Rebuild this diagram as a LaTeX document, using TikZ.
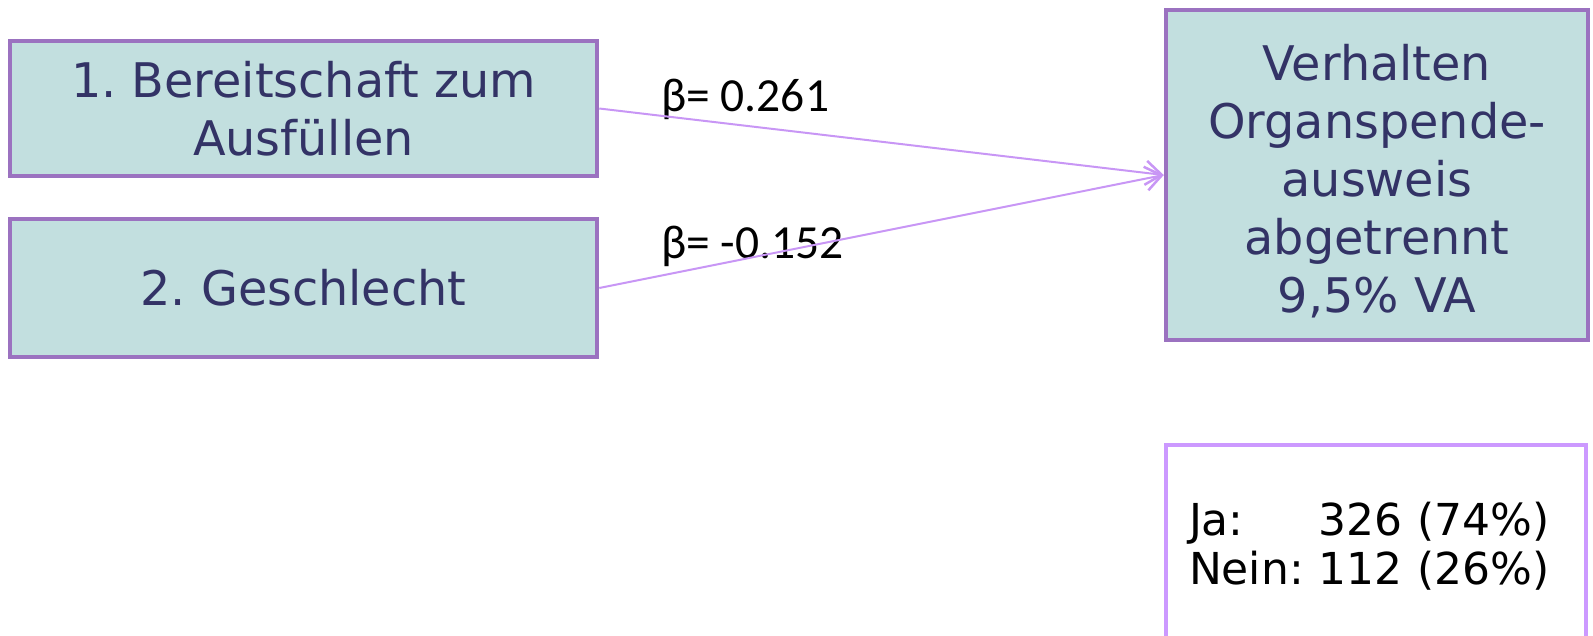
\documentclass[tikz,border=0pt]{standalone}
\usepackage{fontspec}
\setmainfont{DejaVu Sans}
\newfontfamily\calib{Carlito}
\usetikzlibrary{arrows.meta}
\definecolor{boxfill}{HTML}{C2DFDF}
\definecolor{boxdraw}{HTML}{9B72C0}
\definecolor{boxtext}{HTML}{333366}
\definecolor{arrowc}{HTML}{C896F5}
\definecolor{notedraw}{HTML}{CC99FF}
\frenchspacing
\begin{document}
\frenchspacing
\begin{tikzpicture}[x=1pt,y=-1pt,
  varbox/.style={draw=boxdraw, line width=4.5pt, fill=boxfill, text=boxtext,
    font=\fontsize{47.7}{58}\selectfont, align=center, inner sep=0pt},
  notebox/.style={draw=notedraw, line width=4pt, fill=white, text=black,
    font=\fontsize{44}{49.5}\selectfont, inner xsep=23pt, inner ysep=0pt,
    text width=374pt, align=left},
  betalabel/.style={font=\calib\fontsize{47.5}{50}\selectfont, text=black, anchor=west, inner sep=0pt},
  effect/.style={draw=arrowc, line width=2pt, -{Straight Barb[length=16pt,width=24pt,line width=2.5pt]}}
]
\useasboundingbox (0,0) rectangle (1593,635);
\node[varbox, minimum width=587pt, minimum height=135pt] (b1) at (303.5,108.5)
  {1. Bereitschaft zum\\Ausfüllen};
\node[varbox, minimum width=587pt, minimum height=138pt] (b2) at (303.5,288)
  {2. Geschlecht};
\node[varbox, minimum width=422pt, minimum height=330pt] (out) at (1377,175)
  {\raisebox{-10pt}[\height][\depth]{\begin{tabular}{@{}c@{}}Verhalten\\Organspende-\\ausweis\\abgetrennt\\9,5\% VA\end{tabular}}};
\node[notebox, minimum width=420pt, minimum height=210pt] (note) at (1376,550)
  {\begin{tabular}{@{}l@{ }l}Ja: & 326 (74\%)\\Nein: & 112 (26\%)\end{tabular}};
\node[betalabel] (l1) at (661,99) {β= 0.261};
\node[betalabel] (l2) at (661,246) {β= -0.152};
\draw[effect] (b1.east) -- (out.west);
\draw[effect] (b2.east) -- (out.west);
\end{tikzpicture}
\end{document}
